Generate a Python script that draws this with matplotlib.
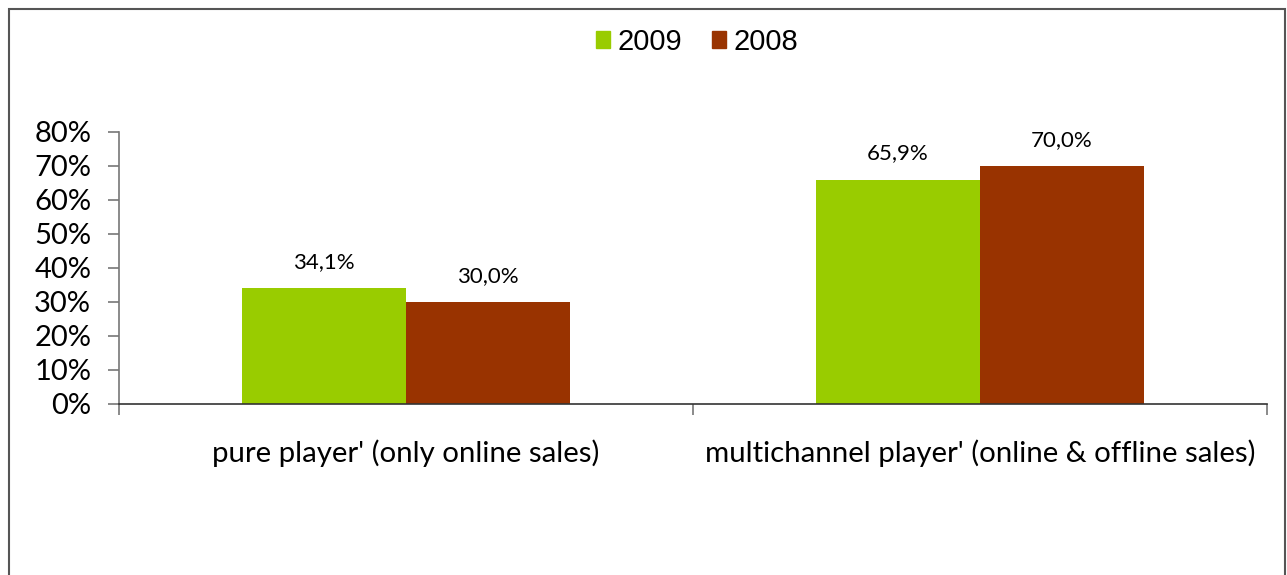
import numpy as np
import matplotlib.pyplot as plt
from matplotlib.patches import Rectangle, Patch

categories = ["pure player' (only online sales)",
              "multichannel player' (online & offline sales)"]
years = ["2009", "2008"]
values_2009 = [34.1, 65.9]
values_2008 = [30.0, 70.0]
labels_2009 = ["34,1%", "65,9%"]
labels_2008 = ["30,0%", "70,0%"]
yticks = [0, 10, 20, 30, 40, 50, 60, 70, 80]

green = '#99CC00'
brown = '#993300'

fig = plt.figure(figsize=(12.87, 5.75), dpi=100)
ax = fig.add_axes([119 / 1287, 1 - 404 / 575, (1267 - 119) / 1287, (404 - 132) / 575])

x = np.arange(len(categories))
w = 0.286
b1 = ax.bar(x - w / 2, values_2009, w, color=green)
b2 = ax.bar(x + w / 2, values_2008, w, color=brown)

for bars, labs in [(b1, labels_2009), (b2, labels_2008)]:
    for bar, lab in zip(bars, labs):
        ax.annotate(lab, (bar.get_x() + bar.get_width() / 2, bar.get_height()),
                    xytext=(0, 19), textcoords='offset points', ha='center', va='center',
                    fontsize=16, family='Lato')

ax.set_xlim(-0.5, 1.5)
ax.set_ylim(0, 80)
ax.set_yticks(yticks)
ax.set_yticklabels([f"{t}%" for t in yticks], fontsize=21, family='Lato')
ax.set_xticks([-0.5, 0.5, 1.5])
ax.set_xticklabels([])
ax.tick_params(axis='y', direction='out', length=8, width=1.2, color='#777777', pad=12)
ax.tick_params(axis='x', direction='out', length=8, width=1.2, color='#777777')

for s in ['top', 'right']:
    ax.spines[s].set_visible(False)
ax.spines['left'].set_color('#777777')
ax.spines['left'].set_linewidth(1.2)
ax.spines['bottom'].set_color('#333333')
ax.spines['bottom'].set_linewidth(1.2)

for xi, cat in zip(x, categories):
    ax.text(xi, -14.5, cat, ha='center', va='center', fontsize=21.2, family='Lato')

handles = [Patch(color=green, label=years[0]), Patch(color=brown, label=years[1])]
fig.legend(handles=handles, loc='center', bbox_to_anchor=(697 / 1287, 1 - 42 / 575),
           ncol=2, frameon=False, handlelength=0.5, handleheight=0.5,
           handletextpad=0.25, columnspacing=1.0, prop={'family': 'Liberation Sans', 'size': 21})

fig.patches.append(Rectangle((9 / 1287, -0.1), (1285 - 9) / 1287, 1.1 - 9 / 575,
                             transform=fig.transFigure, fill=False,
                             edgecolor='#555555', linewidth=1.5))

fig.savefig('out.png', dpi=100)
